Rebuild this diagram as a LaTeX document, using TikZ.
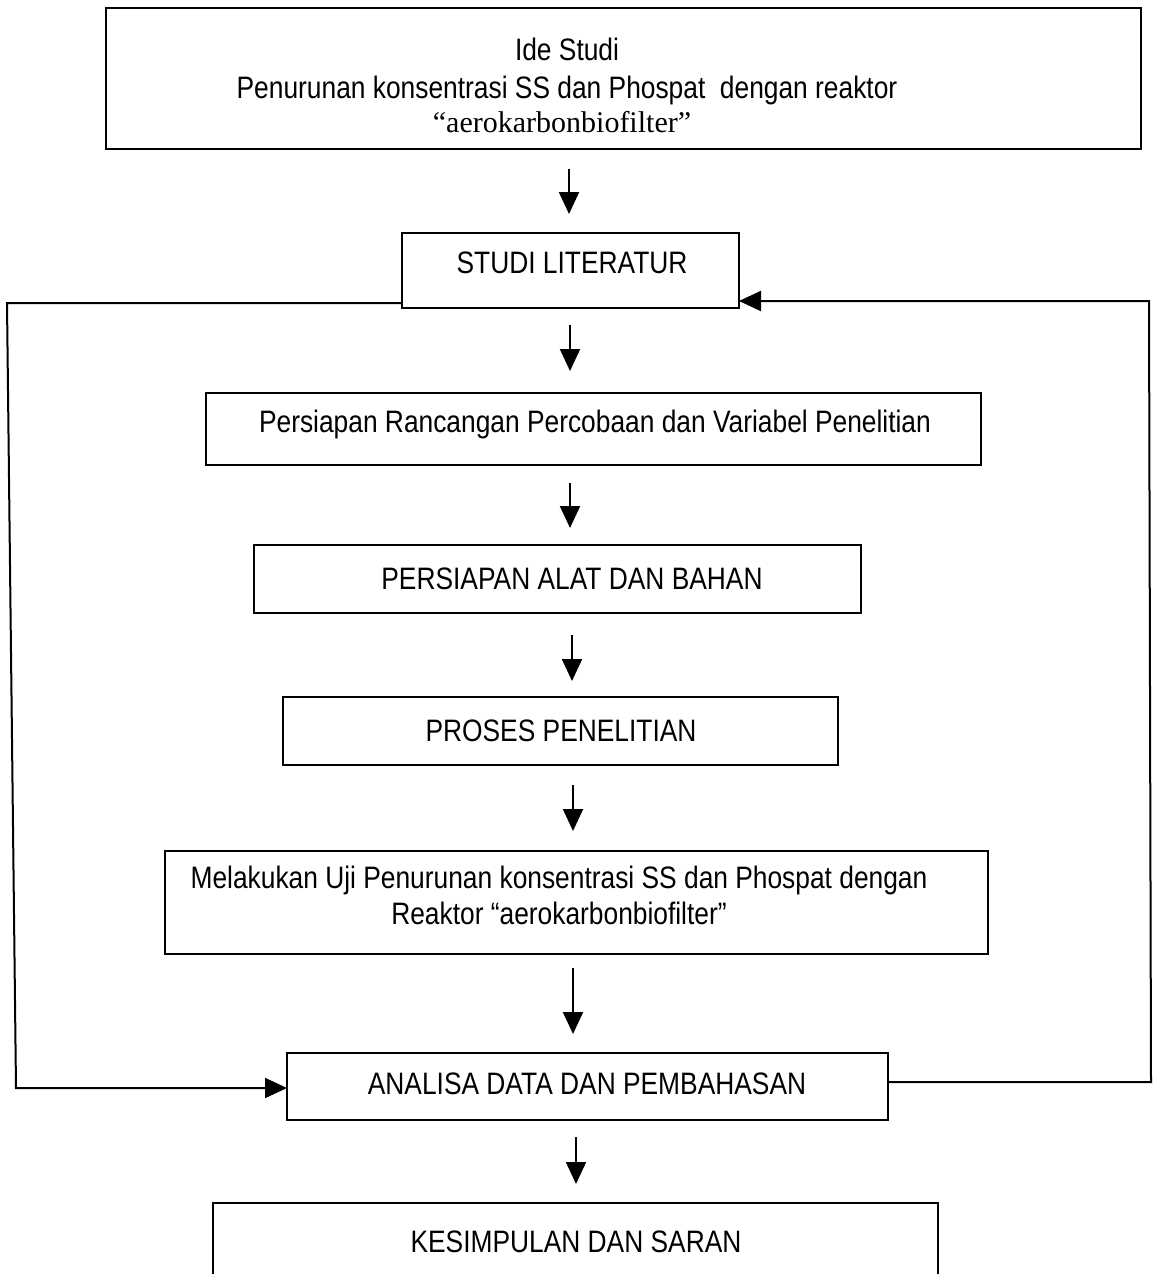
\documentclass[tikz,border=0pt]{standalone}
\usepackage{fontspec}
\setmainfont{Liberation Sans}[FakeStretch=0.85]
\newfontfamily\tms{Liberation Serif}
\usetikzlibrary{arrows.meta}
\tikzset{
  box/.style={draw, line width=2pt, rectangle, inner sep=0pt, outer sep=0pt},
  txt/.style={anchor=base, inner sep=0pt, font=\fontsize{31}{36}\selectfont},
  arr/.style={line width=2pt, -{Triangle[length=22pt,width=20pt]}},
}
\begin{document}
\begin{tikzpicture}[x=1pt,y=-1pt]
\useasboundingbox[fill=white] (0,0) rectangle (1153,1274);
\clip (0,0) rectangle (1153,1274);
% boxes
\node[box, minimum width=1035pt, minimum height=141pt] (ide) at (623.5,78.5) {};
\node[box, minimum width=337pt, minimum height=75pt] (studi) at (570.5,270.5) {};
\node[box, minimum width=775pt, minimum height=72pt] (pers) at (593.5,429) {};
\node[box, minimum width=607pt, minimum height=68pt] (alat) at (557.5,579) {};
\node[box, minimum width=555pt, minimum height=68pt] (proses) at (560.5,731) {};
\node[box, minimum width=823pt, minimum height=103pt] (uji) at (576.5,902.5) {};
\node[box, minimum width=601pt, minimum height=67pt] (analisa) at (587.5,1086.5) {};
\node[box, minimum width=725pt, minimum height=100pt] (kes) at (575.5,1253) {};
% texts
\node[txt] (t1) at (567,60) {Ide Studi};
\node[txt] (t2) at (567,98) {Penurunan konsentrasi SS dan Phospat\ \ dengan reaktor};
\node[txt, font=\tms\fontsize{30}{36}\selectfont] (t3) at (562,132) {“aerokarbonbiofilter”};
\node[txt] (t4) at (572,273) {STUDI LITERATUR};
\node[txt] (t5) at (595,432) {Persiapan Rancangan Percobaan dan Variabel Penelitian};
\node[txt] (t6) at (572,589) {PERSIAPAN ALAT DAN BAHAN};
\node[txt] (t7) at (561,741) {PROSES PENELITIAN};
\node[txt] (t8) at (559,888) {Melakukan Uji Penurunan konsentrasi SS dan Phospat dengan};
\node[txt] (t9) at (559,924) {Reaktor “aerokarbonbiofilter”};
\node[txt] (t10) at (587,1094) {ANALISA DATA DAN PEMBAHASAN};
\node[txt] (t11) at (576,1252) {KESIMPULAN DAN SARAN};
% down arrows
\coordinate (a1s) at (569,169); \coordinate (a1e) at (569,214);
\coordinate (a2s) at (570,325); \coordinate (a2e) at (570,371);
\coordinate (a3s) at (570,483); \coordinate (a3e) at (570,528);
\coordinate (a4s) at (572,635); \coordinate (a4e) at (572,681);
\coordinate (a5s) at (573,785); \coordinate (a5e) at (573,831);
\coordinate (a6s) at (573,968); \coordinate (a6e) at (573,1034);
\coordinate (a7s) at (576,1137); \coordinate (a7e) at (576,1184);
\foreach \i in {1,...,7} {\draw[arr] (a\i s) -- (a\i e);}
% feedback loops
\coordinate (L1) at (7,303);
\coordinate (L2) at (16,1088);
\draw[arr] (studi.west |- L1) -- (L1) -- (L2) -- (analisa.west |- L2);
\coordinate (R1) at (1151,1082);
\coordinate (R2) at (1149,301);
\draw[arr] (analisa.east |- R1) -- (R1) -- (R2) -- (studi.east |- R2);
\end{tikzpicture}
\end{document}
